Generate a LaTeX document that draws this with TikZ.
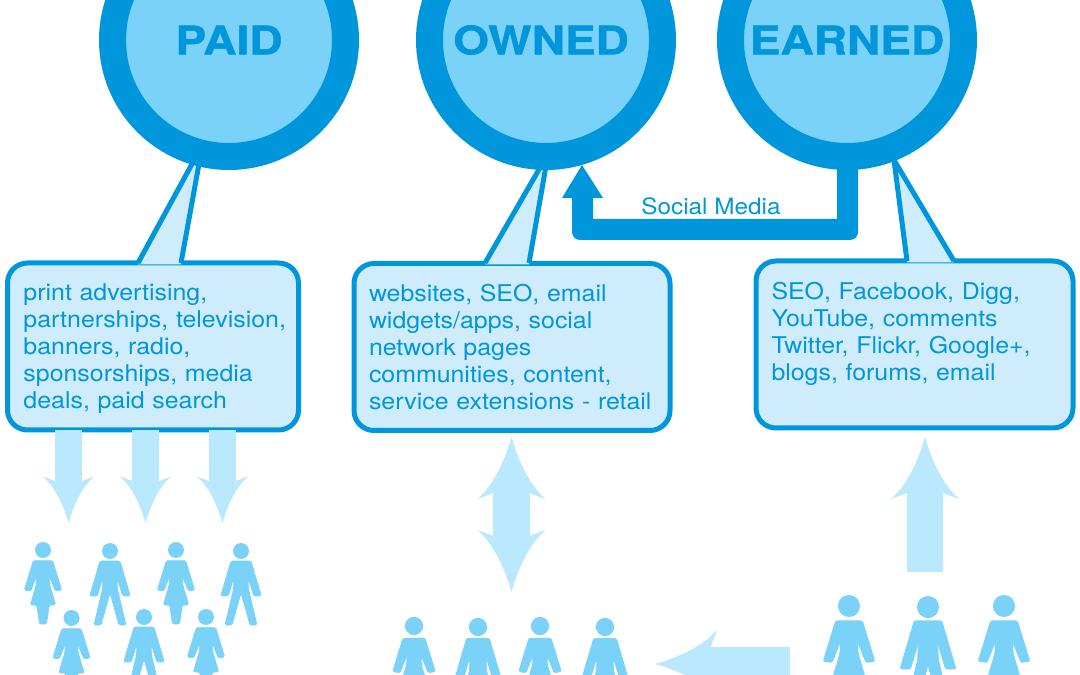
\documentclass[tikz,border=0pt]{standalone}
\usepackage{fontspec}
\setmainfont{TeX Gyre Heros}[FakeStretch=1.08,BoldFeatures={FakeStretch=1.17,FakeBold=1}]
\usetikzlibrary{positioning}
\definecolor{rim}{HTML}{0096DC}
\definecolor{disc}{HTML}{7BD2F8}
\definecolor{pale}{HTML}{CFECFD}
\definecolor{shaft}{HTML}{BAE8FC}
\tikzset{%
  medium/.style={circle,draw=rim,fill=disc,line width=27*0.025cm,minimum size=233*0.025cm,inner sep=0pt,text=rim,font=\fontsize{28}{28}\selectfont\bfseries},
  listbox/.style={rectangle,rounded corners=20*0.025cm,draw=rim,fill=pale,line width=5*0.025cm,minimum height=167*0.025cm,inner sep=0pt,align=left,text=rim,font=\fontsize{16.4}{19.2}\selectfont},
  tail/.style={fill=pale},
  tailedge/.style={draw=rim,line width=5*0.025cm},
  block/.style={fill=shaft},
  figure/.style={fill=disc,draw=disc,line width=0.5pt,rounded corners=1pt},
  blockhead/.pic={\fill[shaft] (0,0) .. controls (8,28) and (20,50) .. (34,62) -- (18,56) -- (-18,56) -- (-34,62) .. controls (-20,50) and (-8,28) .. (0,0) -- cycle;},
  woman/.pic={\fill[disc] (0,0) circle[radius=8];
    \path[figure] (-9.7,10.7) -- (9.7,10.7) -- (18.7,40) -- (12.3,41) -- (6.3,26) -- (6.5,34) -- (12.7,55) -- (6.3,55) -- (3.5,74) -- (-3.5,74) -- (-6.3,55) -- (-12.7,55) -- (-6.5,34) -- (-6.3,26) -- (-12.3,41) -- (-18.7,40) -- cycle;},
  man/.pic={\fill[disc] (0,0) circle[radius=8];
    \path[figure] (-10,10) -- (10,10) -- (20.3,45) -- (12.7,45) -- (7,26) -- (7.5,38) -- (16,74) -- (9,74) -- (0,42) -- (-9,74) -- (-16,74) -- (-7.5,38) -- (-7,26) -- (-12.7,45) -- (-20.3,45) -- cycle;}
}

\begin{document}
\begin{tikzpicture}[x=0.025cm,y=-0.025cm]
    \clip (0,0) rectangle (1080,675);

    \node (list_paid) [listbox,minimum width=291*0.025cm,text width=259*0.025cm] at (153,346.5) {print advertising,\\\mbox{partnerships, television,}\\banners, radio,\\sponsorships, media\\\smash{deals, paid search}};
    \node (list_owned) [listbox,minimum width=316*0.025cm,text width=286*0.025cm] at (512,347) {websites, SEO, email\\widgets/apps, social\\network pages\\communities, content,\\\mbox{service extensions - retail}};
    \node (list_earned) [listbox,minimum width=317*0.025cm,text width=286*0.025cm] at (914.5,344.5) {SEO, Facebook, Digg,\\YouTube, comments\\Twitter, Flickr, Google+,\\blogs, forums, email\\~};

    \coordinate (tip_paid_a) at (192,164);
    \coordinate (tip_paid_b) at (199,164);
    \coordinate (tip_owned_a) at (541,166);
    \coordinate (tip_owned_b) at (546,166);
    \coordinate (tip_earned) at (894,160);

    \fill[tail] (tip_paid_a) -- (138,264.5) -- (181,264.5) -- (tip_paid_b) -- cycle;
    \draw[tailedge] (138,263) -- (tip_paid_a);
    \draw[tailedge] (181,263) -- (tip_paid_b);
    \fill[tail] (tip_owned_a) -- (485,264.5) -- (529,264.5) -- (tip_owned_b) -- cycle;
    \draw[tailedge] (485,263) -- (tip_owned_a);
    \draw[tailedge] (529,263) -- (tip_owned_b);
    \fill[tail] (tip_earned) -- (907,262.5) -- (954,262.5) -- cycle;
    \draw[tailedge] (907,261) -- (tip_earned) -- (954,261);

    \node (paid) [medium] at (229,40) {PAID};
    \node (owned) [medium] at (546,40) {OWNED\hspace*{0.25cm}};
    \node (earned) [medium] at (847,40) {EARNED};

    \fill[rim] (837,165) -- (858,165) [rounded corners=8*0.025cm] -- (858,240) -- (572,240) [sharp corners] -- (572,190) -- (593,190) -- (593,219) -- (837,219) -- cycle;
    \fill[rim] (582,165) -- (603,198) -- (562,198) -- cycle;
    \node (social) [text=rim,font=\fontsize{16}{16}\selectfont,inner sep=0pt] at (711,206) {Social Media};

    \fill[block] (55,430) rectangle (82,484);
    \pic[scale=.75,rotate=180] at (68.5,523) {blockhead};
    \fill[block] (132,430) rectangle (159,484);
    \pic[scale=.75,rotate=180] at (145.5,523) {blockhead};
    \fill[block] (209,430) rectangle (236,484);
    \pic[scale=.75,rotate=180] at (222.5,523) {blockhead};

    \fill[block] (493,492) rectangle (530,539);
    \pic at (511.5,437) {blockhead};
    \pic[rotate=180] at (511.5,592) {blockhead};

    \fill[block] (907,492) rectangle (943,572);
    \pic at (925,437) {blockhead};

    \fill[block] (710,647) rectangle (790,681);
    \pic[rotate=90] at (655,664) {blockhead};

    \pic at (43,550) {woman};
    \pic at (110,551) {man};
    \pic at (176,550) {woman};
    \pic at (241,551) {man};
    \pic at (71.5,618) {woman};
    \pic at (144,617) {man};
    \pic at (206,617) {woman};

    \pic[scale=1.14] at (414,626) {woman};
    \pic[scale=1.14] at (478,627) {man};
    \pic[scale=1.14] at (540,626) {woman};
    \pic[scale=1.14] at (605,627) {man};

    \pic[scale=1.38] at (849,606) {woman};
    \pic[scale=1.38] at (928,607) {man};
    \pic[scale=1.38] at (1004,606) {woman};
\end{tikzpicture}
\end{document}
